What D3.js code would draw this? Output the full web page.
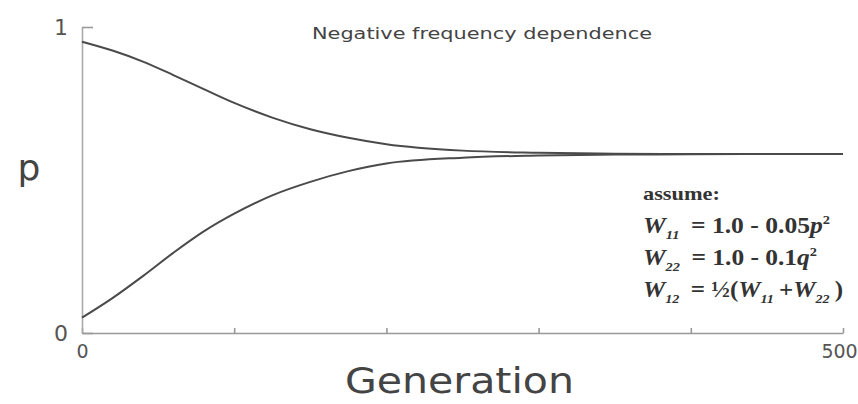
<!DOCTYPE html>
<meta charset="utf-8" />
<style>
  body {
    margin: 0;
    background: #fff;
  }

  .axis path,
  .axis line {
    stroke: #999;
    stroke-width: 1.6px;
  }

  .axis text {
    font-family: "DejaVu Sans", sans-serif;
    fill: #555;
  }

  .curve {
    fill: none;
    stroke: #4a4a4a;
    stroke-width: 2px;
  }

  .legend text {
    font-family: "Liberation Serif", serif;
    font-weight: bold;
    fill: #333;
  }
</style>
<svg width="858" height="404"></svg>
<script src="https://cdn.jsdelivr.net/npm/d3@7"></script>
<script>
  var generations = [0, 20, 40, 60, 80, 100, 125, 150, 175, 200, 250, 300, 350, 400, 450, 500];

  // p starting high (0.95)
  var pHigh = [0.952, 0.923, 0.887, 0.843, 0.797, 0.752, 0.704, 0.666, 0.638, 0.617, 0.596, 0.589, 0.586, 0.585, 0.585, 0.585];

  // p starting low (0.05)
  var pLow = [0.050, 0.114, 0.186, 0.262, 0.332, 0.390, 0.450, 0.494, 0.529, 0.554, 0.573, 0.580, 0.583, 0.584, 0.585, 0.585];

  var xTicks = [0, 100, 200, 300, 400, 500];
  var xTickLabels = ["0", "", "", "", "", "500"];
  var yTicks = [0, 1];

  var svg = d3.select("svg"),
    width = +svg.attr("width"),
    height = +svg.attr("height");

  var margin = { left: 82, right: 15, top: 27, bottom: 71 };

  var x = d3
    .scaleLinear()
    .domain([0, 500])
    .range([margin.left, width - margin.right]);

  var y = d3
    .scaleLinear()
    .domain([0, 1])
    .range([height - margin.bottom, margin.top]);

  // x axis, ticks point up into the plot
  var xAxis = svg
    .append("g")
    .attr("class", "axis")
    .attr("transform", "translate(0," + y(0) + ")")
    .call(
      d3
        .axisBottom(x)
        .tickValues(xTicks)
        .tickSizeInner(-5)
        .tickSizeOuter(0)
        .tickPadding(12)
        .tickFormat(function (d, i) {
          return xTickLabels[i];
        })
    );

  xAxis.selectAll("text").attr("font-size", 19).attr("dx", function (d) {
    return d === 500 ? -4 : 0;
  });

  // y axis, top tick points right
  var yAxis = svg
    .append("g")
    .attr("class", "axis")
    .attr("transform", "translate(" + x(0) + ",0)")
    .call(
      d3
        .axisLeft(y)
        .tickValues(yTicks)
        .tickSizeInner(-11)
        .tickSizeOuter(0)
        .tickPadding(14)
        .tickFormat(d3.format("d"))
    );

  yAxis.selectAll("text").attr("font-size", 22);
  yAxis.select("path").style("stroke", "#aaa");

  var line = d3
    .line()
    .curve(d3.curveMonotoneX)
    .x(function (d, i) {
      return x(generations[i]);
    })
    .y(function (d) {
      return y(d);
    });

  svg
    .selectAll(".curve")
    .data([pHigh, pLow])
    .enter()
    .append("path")
    .attr("class", "curve")
    .attr("d", line);

  // titles
  svg
    .append("text")
    .attr("x", 312)
    .attr("y", 39)
    .attr("font-family", "DejaVu Sans, sans-serif")
    .attr("font-size", 15)
    .attr("fill", "#444")
    .attr("textLength", 340)
    .attr("lengthAdjust", "spacingAndGlyphs")
    .text("Negative frequency dependence");

  svg
    .append("text")
    .attr("x", 29)
    .attr("y", 180)
    .attr("text-anchor", "middle")
    .attr("font-family", "DejaVu Sans, sans-serif")
    .attr("font-size", 36)
    .attr("fill", "#444")
    .text("p");

  svg
    .append("text")
    .attr("x", 345)
    .attr("y", 393)
    .attr("font-family", "DejaVu Sans, sans-serif")
    .attr("font-size", 36)
    .attr("fill", "#444")
    .attr("textLength", 229)
    .attr("lengthAdjust", "spacingAndGlyphs")
    .text("Generation");

  // the fitness assumptions box
  var legend = svg.append("g").attr("class", "legend");

  legend
    .append("text")
    .attr("x", 643)
    .attr("y", 200)
    .attr("font-size", 19)
    .attr("textLength", 77)
    .attr("lengthAdjust", "spacingAndGlyphs")
    .text("assume:");

  function wSub(t, sub) {
    t.append("tspan").attr("font-style", "italic").text("W");
    t.append("tspan").attr("font-size", 13).attr("font-style", "italic").attr("dy", 6).text(sub);
    t.append("tspan").attr("dy", -6).text("\u2009");
  }

  function sup(t, s) {
    t.append("tspan").attr("font-size", 13).attr("dy", -9).text(s);
  }

  var l1 = legend.append("text").attr("x", 643).attr("y", 233).attr("font-size", 23)
    .attr("textLength", 187).attr("lengthAdjust", "spacingAndGlyphs");
  wSub(l1, "11");
  l1.append("tspan").text(" = 1.0 - 0.05");
  l1.append("tspan").attr("font-style", "italic").text("p");
  sup(l1, "2");

  var l2 = legend.append("text").attr("x", 643).attr("y", 265).attr("font-size", 23)
    .attr("textLength", 174).attr("lengthAdjust", "spacingAndGlyphs");
  wSub(l2, "22");
  l2.append("tspan").text(" = 1.0 - 0.1");
  l2.append("tspan").attr("font-style", "italic").text("q");
  sup(l2, "2");

  var l3 = legend.append("text").attr("x", 643).attr("y", 297).attr("font-size", 23)
    .attr("textLength", 200).attr("lengthAdjust", "spacingAndGlyphs");
  wSub(l3, "12");
  l3.append("tspan").text(" = \u00bd(");
  wSub(l3, "11");
  l3.append("tspan").text("+");
  wSub(l3, "22");
  l3.append("tspan").text(")");
</script>
